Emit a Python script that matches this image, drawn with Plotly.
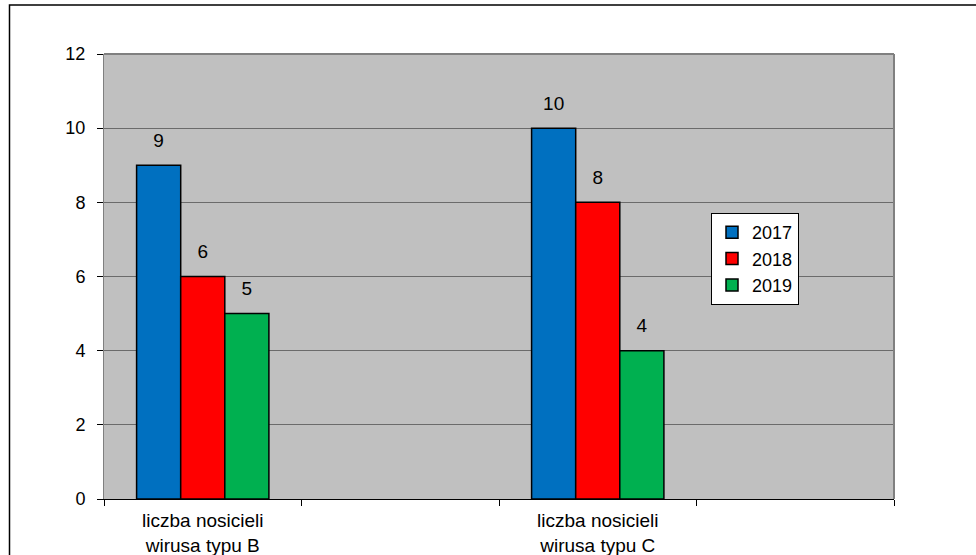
import plotly.graph_objects as go

categories = ["liczba nosicieli<br>wirusa typu B", "liczba nosicieli<br>wirusa typu C"]
slots = ["liczba nosicieli<br>wirusa typu B", " ", "liczba nosicieli<br>wirusa typu C", "  "]
years = ["2017", "2018", "2019"]
v2017 = [9, 10]
v2018 = [6, 8]
v2019 = [5, 4]
colors = ["#0070C0", "#FF0000", "#00B050"]
y_ticks = [0, 2, 4, 6, 8, 10, 12]

fig = go.Figure()
for name, vals, col in zip(years, [v2017, v2018, v2019], colors):
    fig.add_trace(go.Bar(
        x=categories, y=vals, name=name, legendgroup=name, offsetgroup=name,
        marker=dict(color=col, line=dict(color="black", width=1.5)),
        cliponaxis=False,
    ))
for name, vals in zip(years, [v2017, v2018, v2019]):
    fig.add_trace(go.Scatter(
        x=categories, y=vals, offsetgroup=name, mode="markers+text",
        text=[str(v) for v in vals], textposition="top center",
        marker=dict(size=20, opacity=0), showlegend=False, hoverinfo="skip",
        textfont=dict(size=19, color="black", family="Liberation Sans, Arial"),
        cliponaxis=False,
    ))

L, R, T, B = 104, 82, 54, 56
W, H = 976, 555
pw = W - L - R
ph = H - T - B

fig.update_layout(
    width=W, height=H,
    margin=dict(l=L, r=R, t=T, b=B, pad=0),
    paper_bgcolor="white", plot_bgcolor="#C0C0C0",
    font=dict(family="Liberation Sans, Arial", size=18, color="black"),
    barmode="group", bargap=0.33, bargroupgap=0, scattermode="group",
    showlegend=True,
    legend=dict(
        x=(711 - L) / pw, y=(H - B - 213) / ph, xanchor="left", yanchor="top",
        bgcolor="white", bordercolor="black", borderwidth=1,
        font=dict(size=18, color="black"), tracegroupgap=0,
        itemwidth=30,
    ),
    xaxis=dict(
        type="category", categoryorder="array", categoryarray=slots,
        tickson="boundaries", ticks="outside", ticklen=6, tickcolor="black",
        showline=True, linecolor="black", linewidth=1, automargin=False,
        showgrid=False, tickfont=dict(size=19), range=[-0.5, 3.5],
        ticklabelstandoff=4,
    ),
    yaxis=dict(
        range=[0, 12], tickvals=y_ticks, ticks="outside", ticklen=6,
        tickcolor="black", showline=True, linecolor="#808080", linewidth=1,
        showgrid=True, gridcolor="#6B6B6B", gridwidth=1, automargin=False,
        zeroline=False, tickfont=dict(size=18), ticklabelstandoff=8,
    ),
    shapes=[
        dict(type="line", xref="paper", yref="paper", x0=0, x1=1, y0=1, y1=1,
             line=dict(color="#808080", width=2)),
        dict(type="line", xref="paper", yref="paper", x0=1, x1=1, y0=0, y1=1,
             line=dict(color="#808080", width=2)),
        dict(type="rect", xref="paper", yref="paper",
             x0=(9.5 - L) / pw, x1=1.5, y0=-0.5, y1=(H - B - 5) / ph,
             line=dict(color="black", width=1.5), layer="below"),
    ],
)

fig.write_html("out.html")
